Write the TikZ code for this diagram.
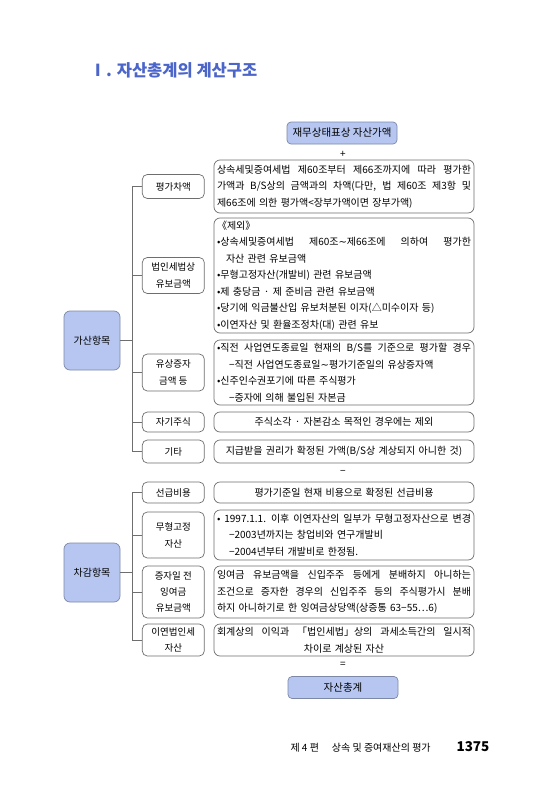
\documentclass[tikz,border=0pt]{standalone}
\usepackage{fontspec}
\setmainfont{Noto Sans CJK KR}
\newfontfamily\symfont{DejaVu Sans}
\usepackage{xcolor}
\usepackage{tikz}
\usetikzlibrary{positioning}
\definecolor{titleblue}{HTML}{4B65C9}
\definecolor{lilac}{HTML}{B6C6F1}
\definecolor{slate}{HTML}{7C88A6}
\definecolor{edge}{HTML}{6E6E6E}
\newcommand{\fullline}[1]{\leavevmode\hbox to 254pt{\spaceskip=0.3em plus 1fill\relax #1}}
\newcommand{\wave}{{\symfont ∼}}
\tikzset{
  totalbox/.style={draw=slate,fill=lilac,rounded corners=4pt,line width=0.7pt,minimum width=110pt,minimum height=22pt,font=\fontsize{10.5}{12}\selectfont},
  groupbox/.style={draw=slate,fill=lilac,rounded corners=6pt,line width=0.7pt,minimum width=56pt,minimum height=59pt,font=\fontsize{10}{12}\selectfont},
  itembox/.style={draw=edge,fill=white,rounded corners=5pt,line width=0.7pt,align=center,minimum width=62pt,minimum height=21pt,inner sep=1pt,font=\fontsize{9.5}{17}\selectfont},
  notebox/.style={draw=edge,fill=white,rounded corners=6pt,line width=0.7pt,text width=254pt,inner xsep=3pt,inner ysep=2pt,align=left,font=\fontsize{10}{16.5}\selectfont},
  branchline/.style={draw=edge,line width=0.7pt},
  signmark/.style={inner sep=0pt,font=\fontsize{10}{12}\selectfont}
}
\begin{document}
\begin{tikzpicture}[x=1pt,y=-1pt]
  \path[use as bounding box] (0,0) rectangle (550,800);
  \node[anchor=west,text=titleblue,font=\fontsize{16.5}{20}\selectfont\bfseries] (title) at (86,70) {Ⅰ. 자산총계의 계산구조};

  \node[totalbox] (book) at (342,133) {재무상태표상 자산가액};
  \node[signmark] (plus) at (343,154) {+};

  \node[notebox,minimum height=53pt] (c1) at (344,186.5) {\fullline{상속세및증여세법 제60조부터 제66조까지에 따라 평가한}\\\fullline{가액과 B/S상의 금액과의 차액(다만, 법 제60조 제3항 및}\\제66조에 의한 평가액<장부가액이면 장부가액)};
  \node[notebox,minimum height=115pt] (c2) at (344,275.5) {《제외》\\\fullline{•상속세및증여세법 제60조\wave 제66조에 의하여 평가한}\\\hspace*{0.9em}자산 관련 유보금액\\•무형고정자산(개발비) 관련 유보금액\\•제 충당금 · 제 준비금 관련 유보금액\\•당기에 익금불산입 유보처분된 이자(△미수이자 등)\\•이연자산 및 환율조정차(대) 관련 유보};
  \node[notebox,minimum height=65pt] (c3) at (344,372.5) {\fullline{•직전 사업연도종료일 현재의 B/S를 기준으로 평가할 경우}\\\hspace*{1.2em}−직전 사업연도종료일\wave 평가기준일의 유상증자액\\•신주인수권포기에 따른 주식평가\\\hspace*{1.2em}−증자에 의해 불입된 자본금};
  \node[notebox,align=center,minimum height=20pt] (c4) at (344,422) {주식소각 · 자본감소 목적인 경우에는 제외};
  \node[notebox,align=center,minimum height=23pt] (c5) at (344,451.5) {지급받을 권리가 확정된 가액(B/S상 계상되지 아니한 것)};

  \node[signmark] (minus) at (343,472) {−};

  \node[notebox,align=center,minimum height=21pt] (c6) at (344,492.5) {평가기준일 현재 비용으로 확정된 선급비용};
  \node[notebox,minimum height=50pt] (c7) at (344,535) {\fullline{• 1997.1.1. 이후 이연자산의 일부가 무형고정자산으로 변경}\\\hspace*{1.2em}−2003년까지는 창업비와 연구개발비\\\hspace*{1.2em}−2004년부터 개발비로 한정됨.};
  \node[notebox,minimum height=52pt] (c8) at (344,592) {\fullline{잉여금 유보금액을 신입주주 등에게 분배하지 아니하는}\\\fullline{조건으로 증자한 경우의 신입주주 등의 주식평가시 분배}\\하지 아니하기로 한 잉여금상당액(상증통 63−55…6)};
  \node[notebox,align=center,minimum height=32pt] (c9) at (344,640) {\fullline{회계상의 이익과 「법인세법」상의 과세소득간의 일시적}\\차이로 계상된 자산};

  \node[signmark] (equals) at (343,665) {=};
  \node[totalbox] (total) at (343,687.5) {자산총계};

  \node[itembox,left=9pt of c1,minimum height=24pt] (l1) {평가차액};
  \node[itembox,left=9pt of c2,minimum height=36pt] (l2) {법인세법상\\유보금액};
  \node[itembox,left=9pt of c3,minimum height=37pt] (l3) {유상증자\\금액 등};
  \node[itembox,left=9pt of c4,minimum height=20pt] (l4) {자기주식};
  \node[itembox,left=9pt of c5,minimum height=23pt] (l5) {기타};
  \node[itembox,left=9pt of c6,minimum height=21pt] (l6) {선급비용};
  \node[itembox,left=9pt of c7,minimum height=46pt] (l7) {무형고정\\자산};
  \node[itembox,left=9pt of c8,minimum height=52pt,font=\fontsize{9.5}{16}\selectfont] (l8) {증자일 전\\잉여금\\유보금액};
  \node[itembox,left=9pt of c9,minimum height=32pt,font=\fontsize{9.5}{16}\selectfont] (l9) {이연법인세\\자산};

  \node[groupbox] (add) at (92,340.5) {가산항목};
  \node[groupbox] (sub) at (92,572.5) {차감항목};

  \draw[branchline] (add.east) -- ++(12,0) coordinate (addj);
  \foreach \n in {l1,l2,l3,l4,l5} \draw[branchline] (addj) |- (\n.west);
  \draw[branchline] (sub.east) -- ++(12,0) coordinate (subj);
  \foreach \n in {l6,l7,l8,l9} \draw[branchline] (subj) |- (\n.west);

  \node[anchor=west,font=\fontsize{10}{12}\selectfont] (part) at (287,748) {제 4 편\hspace{1.3em}상속 및 증여재산의 평가};
  \node[anchor=west,font=\fontsize{13.5}{16}\selectfont\bfseries] (page) at (453,747) {1375};
\end{tikzpicture}
\end{document}
